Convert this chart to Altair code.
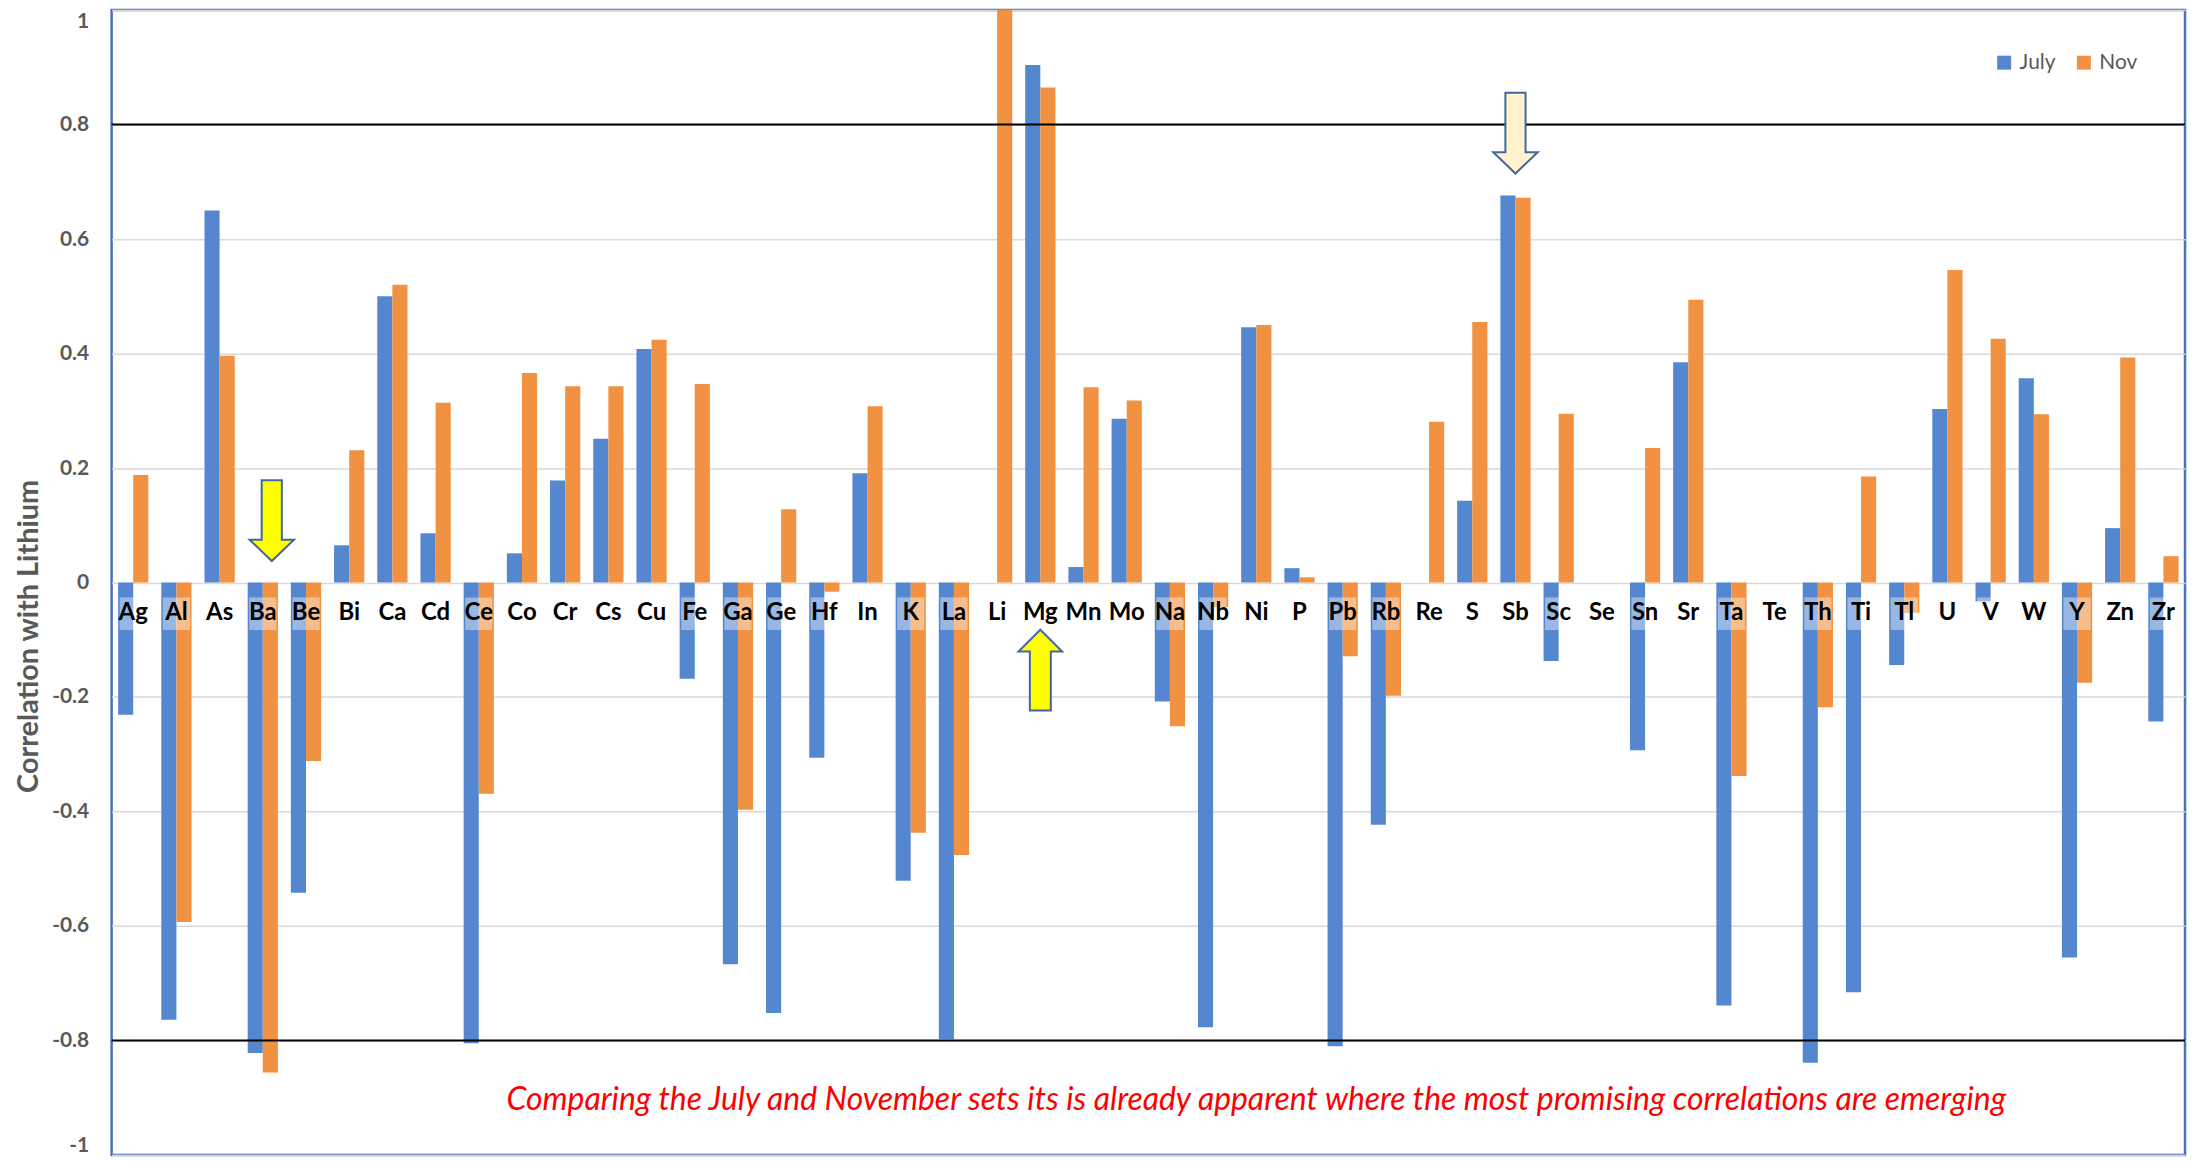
import altair as alt
import pandas as pd

# ---------------- data ----------------
elements = ["Ag", "Al", "As", "Ba", "Be", "Bi", "Ca", "Cd", "Ce", "Co", "Cr", "Cs",
            "Cu", "Fe", "Ga", "Ge", "Hf", "In", "K", "La", "Li", "Mg", "Mn", "Mo",
            "Na", "Nb", "Ni", "P", "Pb", "Rb", "Re", "S", "Sb", "Sc", "Se", "Sn",
            "Sr", "Ta", "Te", "Th", "Ti", "Tl", "U", "V", "W", "Y", "Zn", "Zr"]

july = [-0.231, -0.764, 0.650, -0.822, -0.542, 0.065, 0.500, 0.086, -0.805, 0.051, 0.178, 0.251,
        0.408, -0.168, -0.667, -0.752, -0.306, 0.191, -0.521, -0.798, None, 0.904, 0.027, 0.286,
        -0.208, -0.777, 0.446, 0.025, -0.810, -0.423, None, 0.143, 0.676, -0.137, None, -0.293,
        0.385, -0.739, None, -0.839, -0.716, -0.144, 0.303, -0.033, 0.357, -0.655, 0.095, -0.243]

nov = [0.188, -0.593, 0.396, -0.856, -0.312, 0.231, 0.520, 0.314, -0.369, 0.366, 0.343, 0.343,
       0.424, 0.347, -0.397, 0.128, -0.016, 0.308, -0.437, -0.476, 1.000, 0.865, 0.341, 0.318,
       -0.251, -0.043, 0.450, 0.009, -0.129, -0.198, 0.281, 0.455, 0.672, 0.295, None, 0.235,
       0.494, -0.338, None, -0.218, 0.185, -0.053, 0.546, 0.426, 0.294, -0.175, 0.393, 0.046]

series_names = ["July", "Nov"]
threshold_values = [0.8, -0.8]
y_ticks = [1, 0.8, 0.6, 0.4, 0.2, 0, -0.2, -0.4, -0.6, -0.8, -1]

y_title = "Correlation with Lithium"
note_text = ("Comparing the July and November sets its is already apparent "
             "where the most promising correlations are emerging")
note_element = ["Ni"]
note_value = [-0.904]

arrow_yellow_down_el = ["Ba"]
arrow_yellow_down_val = [0.108]
arrow_cream_down_el = ["Sb"]
arrow_cream_down_val = [0.785]
arrow_yellow_up_el = ["Mg"]
arrow_yellow_up_val = [-0.153]

# ---------------- tables ----------------
rows = []
for e, j, n in zip(elements, july, nov):
    rows.append({"element": e, "series": "July", "value": j})
    rows.append({"element": e, "series": "Nov", "value": n})
df = pd.DataFrame(rows)
labels_df = pd.DataFrame({"element": elements})

FONT = "Lato"
BLUE = "#5487CF"
ORANGE = "#F09242"
GRAY = "#595959"
ARROW_STROKE = "#41679F"

x_scale = alt.Scale(domain=elements, paddingInner=0.3, paddingOuter=0.15)
y_scale = alt.Scale(domain=[-1, 1], nice=False, zero=False)
x_enc = alt.X("element:N", scale=x_scale, axis=None)

y_axis = alt.Axis(
    values=y_ticks,
    title=y_title,
    grid=True,
    gridColor="#D9D9D9",
    gridWidth=1.5,
    domain=False,
    ticks=False,
    labelFont=FONT,
    labelFontSize=21,
    labelFontWeight="bold",
    labelColor=GRAY,
    labelPadding=23,
    labelExpr="datum.value == 0 ? '0' : toString(round(datum.value * 10) / 10)",
    labelBaseline=alt.condition("datum.value == 1", alt.value("top"), alt.value("middle")),
    labelOffset=alt.condition("datum.value == -1", alt.value(-9), alt.value(0)),
    titleFont=FONT,
    titleFontSize=29,
    titleFontWeight="bold",
    titleColor=GRAY,
    titleAngle=270,
    titleX=-68,
    titleY=628,
    titleAlign="center",
    titleBaseline="bottom",
)

bars = alt.Chart(df).mark_bar().encode(
    x=x_enc,
    xOffset=alt.XOffset("series:N", scale=alt.Scale(domain=series_names, paddingInner=0, paddingOuter=0)),
    y=alt.Y("value:Q", scale=y_scale, axis=y_axis),
    color=alt.Color(
        "series:N",
        scale=alt.Scale(domain=series_names, range=[BLUE, ORANGE]),
        legend=alt.Legend(
            title=None, orient="none", legendX=1889, legendY=42,
            direction="horizontal", symbolType="square", symbolSize=196,
            symbolStrokeWidth=0, symbolOpacity=1,
            labelFont=FONT, labelFontSize=21, labelColor=GRAY,
            labelOffset=5, columnPadding=17, padding=0,
        ),
    ),
)

rules = alt.Chart(pd.DataFrame({"t": threshold_values})).mark_rule(
    color="black", strokeWidth=2
).encode(y=alt.Y("t:Q", scale=y_scale, axis=y_axis))

patches = alt.Chart(labels_df).mark_bar(
    color="white", opacity=0.4, width=alt.RelativeBandSize(0.9)
).encode(
    x=x_enc,
    y=alt.YDatum(-0.026, scale=y_scale, axis=y_axis),
    y2=alt.Y2Datum(-0.083),
)

texts = alt.Chart(labels_df).mark_text(
    font=FONT, fontSize=24, fontWeight="bold", color="black", dy=31, baseline="middle"
).encode(x=x_enc, y=alt.YDatum(0, scale=y_scale, axis=y_axis), text="element:N")

down_path = "M-0.25,-1L0.25,-1L0.25,0.47L0.55,0.47L0,1L-0.55,0.47L-0.25,0.47Z"
up_path = "M-0.26,1L0.26,1L0.26,-0.46L0.54,-0.46L0,-1L-0.54,-0.46L-0.26,-0.46Z"


def arrow(els, vals, path, fill, x_off=0):
    return alt.Chart(pd.DataFrame({"element": els, "v": vals})).mark_point(
        shape=path, size=6561, filled=True, fill=fill, stroke=ARROW_STROKE,
        strokeWidth=2, opacity=1, xOffset=x_off
    ).encode(x=x_enc, y=alt.Y("v:Q", scale=y_scale, axis=y_axis))


a1 = arrow(arrow_yellow_down_el, arrow_yellow_down_val, down_path, "#FFFF00", 9)
a2 = arrow(arrow_cream_down_el, arrow_cream_down_val, down_path, "#FFF2CC")
a3 = arrow(arrow_yellow_up_el, arrow_yellow_up_val, up_path, "#FFFF00")

note = alt.Chart(pd.DataFrame({"element": note_element, "v": note_value, "t": [note_text]})).mark_text(
    font=FONT, fontSize=32, fontStyle="italic", color="#FF0000", baseline="middle"
).encode(x=x_enc, y=alt.Y("v:Q", scale=y_scale, axis=y_axis), text="t:N")

chart = alt.layer(bars, rules, patches, texts, a1, a2, a3, note).properties(
    width=2081,
    height=1149,
    padding={"left": 104, "top": 0, "right": 2, "bottom": 5},
    autosize=alt.AutoSizeParams(type="none"),
).configure(background="white").configure_view(stroke="#4A72B8", strokeWidth=2.5)

chart.save("out.html", embed_options={"renderer": "svg", "actions": False})
